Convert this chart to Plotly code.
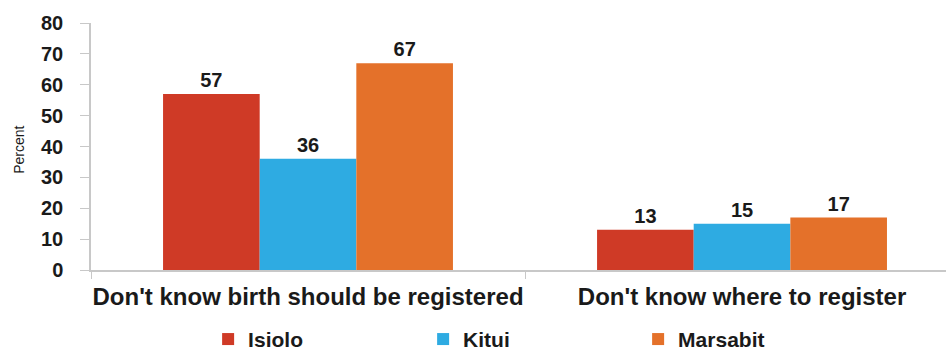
import plotly.graph_objects as go

categories = ["Don't know birth should be registered", "Don't know where to register"]
isiolo = [57, 13]
kitui = [36, 15]
marsabit = [67, 17]
y_ticks = [0, 10, 20, 30, 40, 50, 60, 70, 80]

series = [
    ("Isiolo", isiolo, "#CF3A26"),
    ("Kitui", kitui, "#2EABE2"),
    ("Marsabit", marsabit, "#E4712A"),
]

INK = "#1a1a1a"
FONT = "Liberation Sans"

fig = go.Figure()
for name, vals, color in series:
    fig.add_trace(go.Bar(
        name=name, x=categories, y=vals,
        marker=dict(color=color, line=dict(width=0)),
        text=[str(v) for v in vals], textposition="outside",
        textfont=dict(family=FONT, size=20, color=INK, weight="bold"),
        cliponaxis=False,
    ))

fig.update_layout(
    width=946, height=352,
    margin=dict(l=91, r=0, t=23, b=82, autoexpand=False),
    paper_bgcolor="white", plot_bgcolor="white",
    barmode="group", bargap=0.332, bargroupgap=0,
    font=dict(family=FONT, color=INK),
    showlegend=True,
    legend=dict(
        orientation="h",
        xref="container", x=0.22, xanchor="left",
        yref="paper", y=-0.281, yanchor="middle",
        entrywidth=170, entrywidthmode="pixels", itemwidth=30,
        font=dict(family=FONT, size=21, color=INK, weight="bold"),
        traceorder="normal",
    ),
)
# Y-axis title drawn as a rotated annotation to the left of the tick labels
fig.add_annotation(
    text="Percent", textangle=-90, showarrow=False,
    xref="paper", yref="paper", x=-0.085, y=0.5, yshift=-3,
    xanchor="center", yanchor="middle",
    font=dict(family=FONT, size=14, color=INK),
)
fig.update_xaxes(
    range=[-0.5, 1.47],
    showline=True, linecolor="#c8c8c8", linewidth=1.5,
    ticks="outside", tickson="boundaries", ticklen=7, tickcolor="#c8c8c8",
    ticklabelstandoff=4, tickangle=0,
    tickfont=dict(family=FONT, size=24, color=INK, weight="bold"),
    showgrid=False,
)
fig.update_yaxes(
    range=[0, 80], tickvals=y_ticks,
    showline=True, linecolor="#c8c8c8", linewidth=1.5,
    ticks="outside", ticklen=9, tickcolor="#c8c8c8",
    ticklabelstandoff=13,
    tickfont=dict(family=FONT, size=20, color=INK, weight="bold"),
    showgrid=False, zeroline=False,
)

fig.write_html("out.html")
